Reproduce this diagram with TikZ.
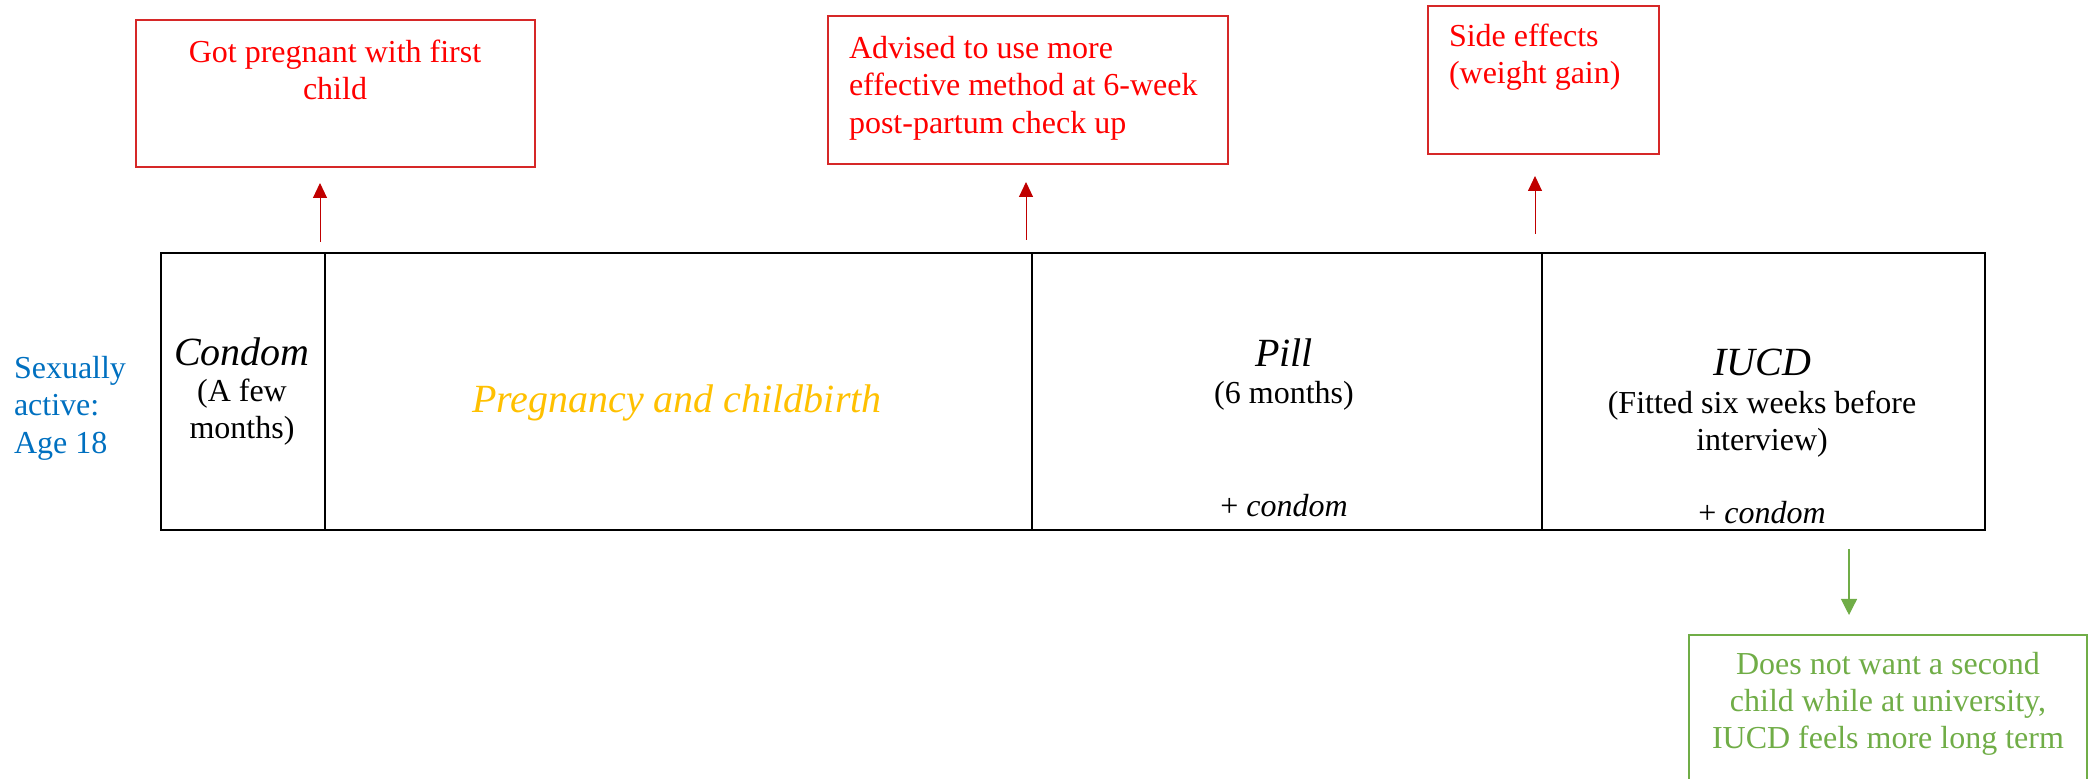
\documentclass[tikz,border=0pt]{standalone}
\usepackage{fontspec}
\setmainfont{Liberation Serif}
\usetikzlibrary{arrows.meta}

\definecolor{notered}{RGB}{255,0,0}
\definecolor{noteframe}{RGB}{214,40,40}
\definecolor{arrowred}{RGB}{192,0,0}
\definecolor{ageblue}{RGB}{0,112,192}
\definecolor{pregorange}{RGB}{255,192,0}
\definecolor{reasongreen}{RGB}{112,173,71}

\newcommand\bodysize{\fontsize{16}{18.6}\selectfont}
\newcommand\titlesize{\fontsize{20}{24}\selectfont}

\begin{document}
\begin{tikzpicture}[x=0.5pt,y=-0.5pt,
  every node/.style={inner sep=0pt, outer sep=0pt, font=\bodysize},
  notebox/.style={draw=noteframe, line width=0.75pt, anchor=north west},
  reasonbox/.style={draw=reasongreen, line width=0.75pt, anchor=north west},
  cell/.style={draw=black, line width=0.75pt, anchor=north west, minimum height=138.5pt},
  redarrow/.style={draw=arrowred, line width=0.5pt, -{Triangle[length=7.5pt,width=7pt]}},
  greenarrow/.style={draw=reasongreen, line width=0.6pt, -{Triangle[length=8pt,width=8pt]}},
  notetext/.style={text=notered},
  celltitle/.style={font=\titlesize\itshape},
]
\useasboundingbox (0,0) rectangle (2094,779);

% timeline cells
\node[cell, minimum width=82pt] (s1) at (161,253) {};
\node[cell, minimum width=353.5pt] (s2) at (s1.north east) {};
\node[cell, minimum width=255pt] (s3) at (s2.north east) {};
\node[cell, minimum width=221.5pt] (s4) at (s3.north east) {};
\draw[line width=1.3pt] (s1.north west) rectangle (s4.south east);

% start label
\node[text=ageblue, align=left, anchor=west, font=\fontsize{16}{18.8}\selectfont] (age) at (14,408) {Sexually\\active:\\Age 18};

% cell contents
\node[celltitle] (condom) at (242,352) {Condom};
\node[align=center] (condomdur) at (242,412) {(A few\\months)};
\node[celltitle, text=pregorange] (preg) at (677,403) {Pregnancy and childbirth};
\node[celltitle] (pill) at (1284,353) {Pill};
\node (pilldur) at (1284,396) {(6 months)};
\node (pillplus) at (1284,506) {+ \textit{condom}};
\node[celltitle] (iucd) at (1762,362) {IUCD};
\node[align=center, font=\fontsize{16}{18.8}\selectfont] (iucddur) at (1762,424) {(Fitted six weeks before\\interview)};
\node (iucdplus) at (1762,513) {+ \textit{condom}};

% event notes above the timeline
\node[notebox, minimum width=199.5pt, minimum height=73.5pt] (n1) at (136,20) {};
\node[notetext, align=center] (t1) at (335,70) {Got pregnant with first\\child};
\node[notebox, minimum width=200pt, minimum height=74pt] (n2) at (828,16) {};
\node[notetext, align=left, anchor=west, font=\fontsize{16}{18.8}\selectfont] (t2) at (849,88) {Advised to use more\\effective method at 6-week\\post-partum check up};
\node[notebox, minimum width=115.5pt, minimum height=74pt] (n3) at (1428,6) {};
\node[notetext, align=left, anchor=west] (t3) at (1449,57) {Side effects\\(weight gain)};

\coordinate (a1s) at (320,242);
\coordinate (a1e) at (320,183);
\coordinate (a2s) at (1026,240);
\coordinate (a2e) at (1026,182);
\coordinate (a3s) at (1535,234);
\coordinate (a3e) at (1535,176);
\draw[redarrow] (a1s) -- (a1e);
\draw[redarrow] (a2s) -- (a2e);
\draw[redarrow] (a3s) -- (a3e);

% reason below the timeline
\node[reasonbox, minimum width=199pt, minimum height=90pt] (r1) at (1689,635) {};
\node[text=reasongreen, align=center] (rt) at (1888,704) {Does not want a second\\child while at university,\\IUCD feels more long term};
\coordinate (g1s) at (1849,549);
\coordinate (g1e) at (1849,615);
\draw[greenarrow] (g1s) -- (g1e);
\end{tikzpicture}
\end{document}
